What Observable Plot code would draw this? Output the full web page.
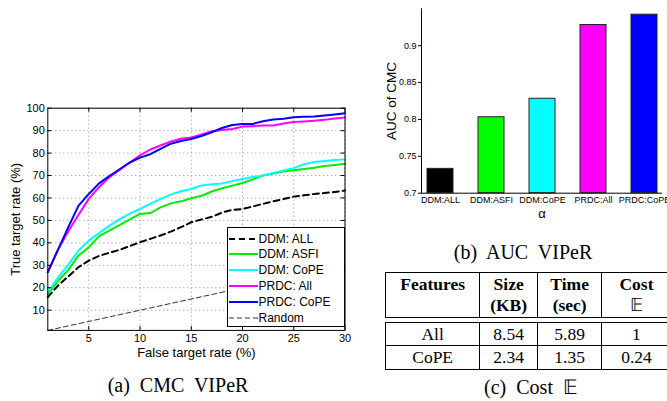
<!DOCTYPE html>
<html>
<head>
<meta charset="utf-8">
<script src="https://cdn.jsdelivr.net/npm/d3@7"></script>
<script src="https://cdn.jsdelivr.net/npm/@observablehq/plot@0.6"></script>
<style>
  body { margin: 0; background: #fff; }
  #fig { position: relative; width: 667px; height: 401px; overflow: hidden; background: #fff;
         font-family: "Liberation Sans", Arial, Helvetica, sans-serif; color: #000; }
  .panel { position: absolute; }
  .cap { position: absolute; font-family: "Liberation Serif", "Times New Roman", serif; font-size: 20px;
         word-spacing: 5px; white-space: nowrap; transform: translate(-50%, -50%); }
  .legend { position: absolute; background: #fff; border: 1px solid #000; box-sizing: border-box; font-size: 12px; }
  .legend .row { position: absolute; left: 0; height: 14px; display: flex; align-items: center; white-space: nowrap; }
  .legend svg { display: block; }
  table.cost { position: absolute; border-collapse: collapse; table-layout: fixed;
               font-family: "Liberation Serif", "Times New Roman", serif; font-size: 17.5px; }
  table.cost td { border: 1px solid #000; text-align: center; padding: 0; }
  table.cost.head td { vertical-align: top; line-height: 21.5px; padding-top: 1px; font-weight: bold; }
  table.cost.head td .plain { font-weight: normal; }
</style>
</head>
<body>
<div id="fig"></div>
<script>
// ---------- CMC curves on VIPeR (true target rate vs false target rate, %) ----------
const fpr = [1, 2, 3, 4, 5, 6, 7, 8, 9, 10, 11, 12, 13, 14, 15, 16, 17, 18, 19, 20, 21, 22, 23, 24, 25, 26, 27, 28, 29, 30];
const ddmAll   = [15.8, 21, 25, 29.2, 32.1, 34.2, 35.6, 36.9, 38.6, 40.3, 41.8, 43.3, 45, 47, 49.2, 50.4, 51.6, 53.5, 54.7, 55.1, 56.2, 57.4, 58.5, 59.5, 60.6, 61.2, 61.8, 62.2, 62.7, 63.3];
const ddmAsfi  = [17, 23, 28, 34.4, 38, 43, 45.5, 47.9, 50.5, 52.9, 53.3, 55.8, 57.6, 58.5, 59.9, 61, 62.9, 64.3, 65.5, 66.7, 68.3, 70, 70.9, 71.8, 72.4, 72.9, 73.5, 74.2, 74.7, 75.3];
const ddmCope  = [18, 24.5, 30.3, 36.6, 41, 44.4, 47.6, 50.5, 53, 55.1, 57.4, 59.6, 61.5, 63, 64, 65.6, 66.1, 66.5, 67.5, 68.5, 69.3, 70, 71.1, 72.2, 73.3, 75, 76, 76.5, 76.9, 77.2];
const prdcAll  = [27, 37, 45.2, 52.5, 59.6, 64.8, 69.2, 72.5, 75.8, 79, 81.6, 83.4, 85.2, 86.4, 87, 88.3, 89.7, 90.3, 90.7, 91.8, 92, 92.3, 92.3, 93.2, 93.9, 94.1, 94.4, 94.8, 95.4, 95.8];
const prdcCope = [27, 37, 47, 56.6, 61.8, 66.5, 69.8, 72.8, 75.8, 78, 79.5, 81.9, 84.2, 85.4, 86.3, 87.6, 89.3, 91.2, 92.5, 93, 93, 94.2, 95, 95.3, 96, 96.2, 96.3, 96.7, 97.2, 97.8];
const randomFpr = [1, 30];
const randomTpr = [1, 30];

const seriesNames  = ["DDM: ALL", "DDM: ASFI", "DDM: CoPE", "PRDC: All", "PRDC: CoPE", "Random"];
const seriesColors = ["#000000", "#00ee00", "#00ffff", "#ff00ff", "#0000ff", "#000000"];
const seriesDash   = ["6,4", null, null, null, null, "5,3"];
const seriesWidth  = [2, 2, 2, 2, 2, 0.8];

const cmcXTicks = [5, 10, 15, 20, 25, 30];
const cmcYTicks = [10, 20, 30, 40, 50, 60, 70, 80, 90, 100];

// ---------- AUC of CMC ----------
const aucMethods = ["DDM:ALL", "DDM:ASFI", "DDM:CoPE", "PRDC:All", "PRDC:CoPE"];
const aucValues  = [0.733, 0.803, 0.828, 0.928, 0.942];
const aucColors  = ["#000000", "#00ff00", "#00ffff", "#ff00ff", "#0000ff"];
const aucTicks   = [0.7, 0.75, 0.8, 0.85, 0.9];
const aucBase    = 0.7;

// ---------- Cost table ----------
const costFeatures = ["All", "CoPE"];
const costSize     = ["8.54", "2.34"];
const costTime     = ["5.89", "1.35"];
const costValue    = ["1", "0.24"];

const fig = document.getElementById("fig");
const centered = {textAnchor: "middle", lineAnchor: "middle"};

// ===== (a) CMC plot =====
{
  const W = 360, H = 365, mL = 47.3, mR = 15.5, mT = 107.7, mB = 35.1;
  const iW = W - mL - mR, iH = H - mT - mB;
  const curves = [ddmAll, ddmAsfi, ddmCope, prdcAll, prdcCope];
  const lineMarks = [];
  // random guess baseline first, so the other curves draw over it
  lineMarks.push(Plot.line(randomFpr.map((x, i) => ({x, y: randomTpr[i]})),
    {x: "x", y: "y", stroke: seriesColors[5], strokeWidth: seriesWidth[5], strokeDasharray: seriesDash[5]}));
  curves.forEach((arr, k) => {
    lineMarks.push(Plot.line(fpr.map((x, i) => ({x, y: arr[i]})),
      {x: "x", y: "y", stroke: seriesColors[k], strokeWidth: seriesWidth[k],
       strokeDasharray: seriesDash[k] ?? undefined, strokeLinejoin: "round"}));
  });
  const grid = {stroke: "#8a8a8a", strokeOpacity: 1, strokeWidth: 1, strokeDasharray: "1,3"};
  const chart = Plot.plot({
    width: W, height: H, marginLeft: mL, marginRight: mR, marginTop: mT, marginBottom: mB,
    style: {fontFamily: "Liberation Sans, Arial, sans-serif", fontSize: "11px", color: "#000", background: "transparent"},
    x: {domain: [1, 30], label: null},
    y: {domain: [1, 100], label: null},
    marks: [
      Plot.gridX(cmcXTicks, grid),
      Plot.gridY(cmcYTicks, grid),
      ...lineMarks,
      Plot.frame({stroke: "#000", strokeWidth: 1}),
      Plot.tickY(cmcYTicks, {y: d => d, insetRight: iW - 4, stroke: "#000"}),
      Plot.tickY(cmcYTicks, {y: d => d, insetLeft: iW - 4, stroke: "#000"}),
      Plot.tickX(cmcXTicks, {x: d => d, insetTop: iH - 4, stroke: "#000"}),
      Plot.tickX(cmcXTicks, {x: d => d, insetBottom: iH - 4, stroke: "#000"}),
      Plot.axisX(cmcXTicks, {tickSize: 0, tickPadding: 4, label: null}),
      Plot.axisY(cmcYTicks, {tickSize: 0, tickPadding: 3, label: null}),
      Plot.text(["True target rate (%)"], {text: d => d, frameAnchor: "left", rotate: -90, dx: -32, fontSize: 13, ...centered}),
      Plot.text(["False target rate (%)"], {text: d => d, frameAnchor: "bottom", dy: 22.5, fontSize: 13, ...centered})
    ]
  });
  chart.classList.add("panel");
  chart.style.left = "0px"; chart.style.top = "0px";
  fig.appendChild(chart);

  // legend box in the lower-right corner of the axes
  const lg = document.createElement("div");
  lg.className = "legend";
  Object.assign(lg.style, {left: "226.5px", top: "226.5px", width: "118px", height: "100px"});
  seriesNames.forEach((name, k) => {
    const row = document.createElement("div");
    row.className = "row";
    row.style.top = (4 + k * 15.8) + "px";
    const s = d3.create("svg").attr("width", 31).attr("height", 14);
    s.append("line").attr("x1", 1).attr("x2", 30).attr("y1", 7).attr("y2", 7)
      .attr("stroke", seriesColors[k]).attr("stroke-width", seriesWidth[k])
      .attr("stroke-dasharray", seriesDash[k]);
    row.appendChild(s.node());
    const t = document.createElement("span");
    t.textContent = name;
    row.appendChild(t);
    lg.appendChild(row);
  });
  fig.appendChild(lg);
}

// ===== (b) AUC bars =====
{
  const W = 297, H = 225;
  const aucData = aucMethods.map((m, i) => ({m, v: aucValues[i], c: aucColors[i]}));
  const chart = Plot.plot({
    width: W, height: H, marginLeft: 51, marginRight: 5, marginTop: 8.3, marginBottom: 32.3,
    style: {fontFamily: "Liberation Sans, Arial, sans-serif", fontSize: "9px", color: "#000", background: "transparent"},
    x: {type: "band", domain: aucMethods, paddingInner: 0.5, paddingOuter: 0.085, label: null},
    y: {domain: [0.7, 0.95], label: null},
    color: {type: "identity"},
    marks: [
      Plot.barY(aucData, {x: "m", y1: aucBase, y2: "v", fill: "c", stroke: "#222", strokeWidth: 1}),
      Plot.frame({anchor: "left", stroke: "#000"}),
      Plot.ruleY([aucBase], {stroke: "#000"}),
      Plot.axisY(aucTicks, {tickSize: 3, tickPadding: 2, label: null, tickFormat: d => String(d)}),
      Plot.axisX({tickSize: 0, tickPadding: 3.5, label: null}),
      Plot.text(["AUC of CMC"], {text: d => d, frameAnchor: "left", rotate: -90, dx: -30, fontSize: 13.5, ...centered}),
      Plot.text(["\u03b1"], {text: d => d, frameAnchor: "bottom", dy: 20.5, fontSize: 13, ...centered})
    ]
  });
  chart.classList.add("panel");
  chart.style.left = "370px"; chart.style.top = "0px";
  fig.appendChild(chart);
}

// ===== (c) cost table =====
{
  const colW = [93.3, 56.7, 63.3, 68.4];
  const head = document.createElement("table");
  head.className = "cost head";
  Object.assign(head.style, {left: "385px", top: "271.7px", width: "282px"});
  const hr = head.insertRow();
  hr.style.height = "45px";
  const headers = [["Features"], ["Size", "(KB)"], ["Time", "(sec)"], ["Cost", null]];
  headers.forEach((h, i) => {
    const td = hr.insertCell();
    td.style.width = colW[i] + "px";
    td.innerHTML = h[0] + "<br>" + (h[1] === null ? '<span class="plain">\u{1D53C}</span>' : (h[1] || ""));
  });
  fig.appendChild(head);

  const body = document.createElement("table");
  body.className = "cost";
  Object.assign(body.style, {left: "385px", top: "322px", width: "282px"});
  costFeatures.forEach((f, r) => {
    const tr = body.insertRow();
    tr.style.height = (r === 0 ? 23 : 24) + "px";
    [f, costSize[r], costTime[r], costValue[r]].forEach((v, i) => {
      const td = tr.insertCell();
      td.style.width = colW[i] + "px";
      td.textContent = v;
    });
  });
  fig.appendChild(body);
}

// ===== captions =====
[["(a) CMC VIPeR", 178, 385], ["(b) AUC VIPeR", 523, 252], ["(c) Cost \u{1D53C}", 531, 387]].forEach(([t, x, y]) => {
  const d = document.createElement("div");
  d.className = "cap";
  d.textContent = t;
  d.style.left = x + "px"; d.style.top = y + "px";
  fig.appendChild(d);
});
</script>
</body>
</html>
